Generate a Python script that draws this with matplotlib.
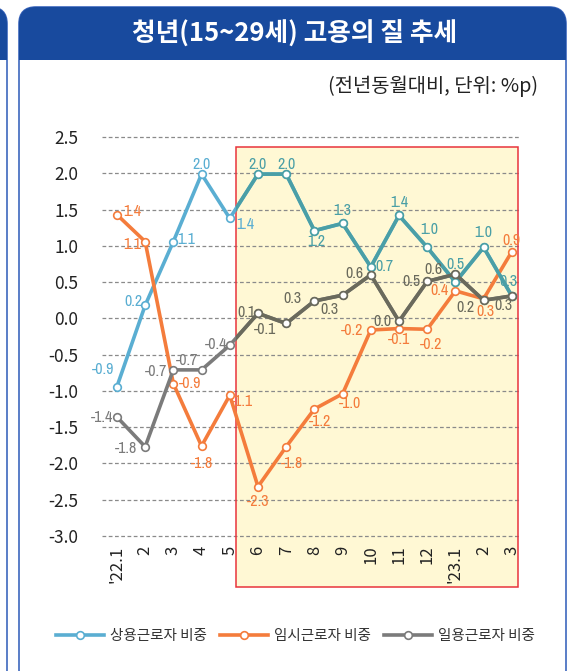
import numpy as np
import matplotlib
matplotlib.use('Agg')
import matplotlib.pyplot as plt
from matplotlib.patches import Rectangle, FancyBboxPatch

plt.rcParams['font.family'] = ['Noto Sans CJK KR', 'DejaVu Sans']

# Data
months = ["'22.1", '2', '3', '4', '5', '6', '7', '8', '9', '10', '11', '12', "'23.1", '2', '3']
regular = [-0.94, 0.18, 1.06, 1.99, 1.38, 1.99, 1.99, 1.21, 1.31, 0.71, 1.42, 0.98, 0.50, 0.98, 0.31]
temporary = [1.43, 1.06, -0.90, -1.76, -1.06, -2.32, -1.77, -1.25, -1.04, -0.16, -0.14, -0.15, 0.38, 0.27, 0.92]
daily = [-1.36, -1.77, -0.71, -0.71, -0.37, 0.07, -0.07, 0.24, 0.32, 0.60, -0.04, 0.51, 0.61, 0.25, 0.31]

regular_lbl = ['-0.9', '0.2', '1.1', '2.0', '1.4', '2.0', '2.0', '1.2', '1.3', '0.7', '1.4', '1.0', '0.5', '1.0', '0.3']
temporary_lbl = ['1.4', '1.1', '-0.9', '-1.8', '-1.1', '-2.3', '-1.8', '-1.2', '-1.0', '-0.2', '-0.1', '-0.2', '0.4', '0.3', '0.9']
daily_lbl = ['-1.4', '-1.8', '-0.7', '-0.7', '-0.4', '0.1', '-0.1', '0.3', '0.3', '0.6', '0.0', '0.5', '0.6', '0.2', '0.3']

series_names = ['상용근로자 비중', '임시근로자 비중', '일용근로자 비중']

# label offsets in pixels (dx right, dy down)
regular_off = [(-14, -17), (-12, -4), (13, -2), (0, -10), (15, 6), (0, -10), (0, -10), (2, 11),
               (0, -13), (14, 0), (0, -13), (2, -18), (0, -18), (0, -15), (-3, -14)]
temporary_off = [(15, -3), (-13, 3), (17, 0), (0, 17), (12, 6), (0, 15), (6, 17), (6, 12),
                 (7, 10), (-19, 1), (0, 11), (4, 15), (-16, 0), (2, 13), (0, -11)]
daily_off = [(-15, 0), (-19, 2), (-17, 2), (-15, -9), (-14, -1), (-12, -1), (-21, 6), (-22, -2),
             (-13, 14), (-16, -1), (-17, 0), (-16, 0), (-22, -5), (-18, 7), (-8, 10)]

c_blue, c_teal = '#5aaed2', '#4a9fa6'
c_orange = '#f47c3c'
c_gray, c_olive = '#7b7b7b', '#6a6a5c'

fig = plt.figure(figsize=(5.76, 6.71), dpi=100)

# background card / header (pixel coords)
bg = fig.add_axes([0, 0, 1, 1], zorder=0)
bg.set_xlim(0, 576)
bg.set_ylim(671, 0)
bg.axis('off')
for x0, x1 in [(-540, 7), (19, 566)]:
    card = FancyBboxPatch((x0, 7), x1 - x0, 680, boxstyle='round,pad=0,rounding_size=17',
                          fc='white', ec='#3d67bd', lw=1.2)
    bg.add_patch(card)
    head = Rectangle((x0 - 5, 0), x1 - x0 + 10, 60, fc='#184a9e', ec='none')
    bg.add_patch(head)
    head.set_clip_path(card)
bg.text(295, 34, '청년(15~29세) 고용의 질 추세', color='white', fontsize=18.5,
        fontweight='bold', ha='center', va='center')
bg.text(538, 86, '(전년동월대비, 단위: %p)', color='#222222', fontsize=14.3,
        ha='right', va='center')

# main chart
ax = fig.add_axes([102 / 576, 1 - 590.3 / 671, 418 / 576, (590.3 - 133.5) / 671], zorder=1)
ax.patch.set_alpha(0)
x = np.arange(len(months))
ax.set_xlim(-0.53, 14.29)
ax.set_ylim(-3.75, 2.55)
for s in ax.spines.values():
    s.set_visible(False)

yt = np.arange(-3.0, 2.51, 0.5)
ax.set_yticks(yt)
ax.set_yticklabels([f'{v:.1f}' for v in yt], fontsize=12.5, color='#222222')
ax.tick_params(axis='y', length=0, pad=17)
ax.set_xticks([])
for v in yt:
    ax.axhline(v, color='#8a8a8a', lw=0.9, ls=(0, (3, 2)), zorder=1)

box = Rectangle((4.22, -3.70), 10.0, 6.06, fc='#fff8d4', ec='none', zorder=0)
ax.add_patch(box)
ax.add_patch(Rectangle((4.22, -3.70), 10.0, 6.06, fc='none', ec='#e8343c', lw=1.1,
                       zorder=1.5, clip_on=False))

for i, m in enumerate(months):
    ax.text(i, -3.13, m, rotation=90, ha='center', va='top', fontsize=12, color='#222222')

handles = []
for vals, col, col_in, name in [(regular, c_blue, c_teal, series_names[0]),
                                (temporary, c_orange, c_orange, series_names[1]),
                                (daily, c_gray, c_olive, series_names[2])]:
    ln, = ax.plot(x, vals, color=col, lw=2.6, marker='o', ms=5.5, mfc='white',
                  mec=col, mew=1.2, zorder=3)
    handles.append(ln)
    if col_in != col:
        ln2, = ax.plot(x, vals, color=col_in, lw=2.6, marker='o', ms=5.5, mfc='white',
                       mec=col_in, mew=1.2, zorder=3.1)
        ln2.set_clip_path(box)

lbl_font = ['Archivo Narrow', 'DejaVu Sans']
for vals, lbls, offs, col, col_in in [(regular, regular_lbl, regular_off, c_blue, c_teal),
                                      (temporary, temporary_lbl, temporary_off, c_orange, c_orange),
                                      (daily, daily_lbl, daily_off, c_gray, c_olive)]:
    for i, (v, t, (dx, dy)) in enumerate(zip(vals, lbls, offs)):
        ax.annotate(t, (i, v), xytext=(dx * 0.72, -dy * 0.72), textcoords='offset points',
                    ha='center', va='center', fontsize=11.5, family=lbl_font,
                    color=col_in if i >= 5 else col, zorder=4)

fig.legend(handles=handles, labels=series_names, loc='center', bbox_to_anchor=(295 / 576, 1 - 636 / 671),
           ncol=3, frameon=False, fontsize=10.5, handlelength=3.3, handletextpad=0.4,
           columnspacing=0.9, labelcolor='#333333')

fig.savefig('out.png', dpi=100)
